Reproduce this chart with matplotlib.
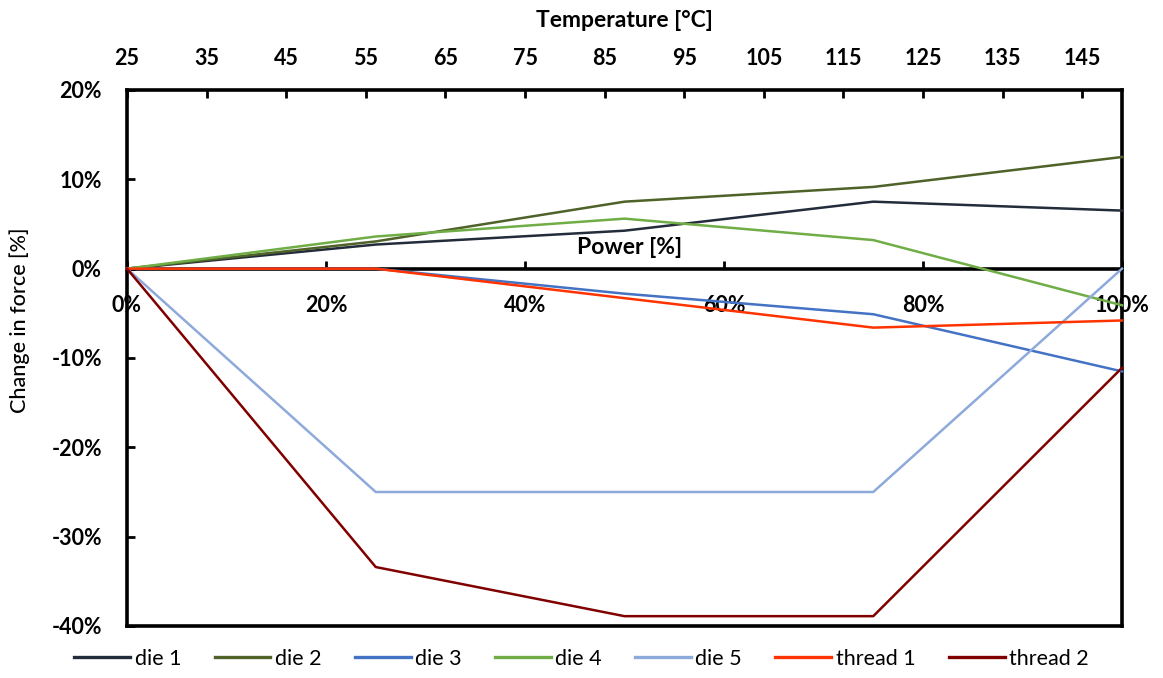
import matplotlib
matplotlib.use("Agg")
import matplotlib.pyplot as plt
from matplotlib.ticker import FuncFormatter, MultipleLocator

plt.rcParams['font.family'] = ['Lato', 'DejaVu Sans']

# power steps (% of max) and the change in force measured for each part
power = [0, 25, 50, 75, 100]
die_1 = [0, 2.7, 4.25, 7.5, 6.5]
die_2 = [0, 3.05, 7.5, 9.15, 12.5]
die_3 = [0, 0, -2.8, -5.1, -11.5]
die_4 = [0, 3.6, 5.6, 3.2, -4.1]
die_5 = [0, -25, -25, -25, 0]
thread_1 = [0, 0, -3.3, -6.6, -5.8]
thread_2 = [0, -33.4, -38.9, -38.9, -11.1]

series_names = ['die 1', 'die 2', 'die 3', 'die 4', 'die 5', 'thread 1', 'thread 2']
series = [die_1, die_2, die_3, die_4, die_5, thread_1, thread_2]
colors = ['#232c3b', '#4f6228', '#4472c4', '#70ad47', '#8eaadb', '#ff3300', '#800000']

temp_min, temp_max = 25, 150
temp_ticks = list(range(25, 150, 10))

fig = plt.figure(figsize=(11.63, 6.78), dpi=100)
ax = fig.add_axes([127 / 1163, 1 - 626 / 678, 995 / 1163, 536 / 678])

for name, vals, c in zip(series_names, series, colors):
    ax.plot(power, vals, color=c, lw=1.8, label=name, zorder=3, clip_on=False)

ax.set_xlim(0, 100)
ax.set_ylim(-40, 20)

# power axis runs along the zero line, box closed with a line at the bottom
ax.spines['bottom'].set_position(('data', 0))
for s in ax.spines.values():
    s.set_linewidth(2.6)
    s.set_color('black')
ax.axhline(-40, color='black', lw=2.6, clip_on=False, zorder=2.5)

pct = FuncFormatter(lambda v, p: f'{v:.0f}%')
ax.xaxis.set_major_locator(MultipleLocator(20))
ax.xaxis.set_major_formatter(pct)
ax.yaxis.set_major_locator(MultipleLocator(10))
ax.yaxis.set_major_formatter(pct)
ax.tick_params(axis='x', direction='in', length=6, width=2, pad=19,
               labelsize=15.5)
ax.tick_params(axis='y', direction='in', length=6, width=2, pad=18,
               labelsize=15.5)
for lbl in ax.get_xticklabels() + ax.get_yticklabels():
    lbl.set_fontweight('bold')

ax.text(50.5, 1.2, 'Power [%]', ha='center', va='bottom', fontsize=16.5,
        fontweight='bold')
ax.set_ylabel('Change in force [%]', fontsize=15.5, fontweight='medium')
ax.yaxis.set_label_coords(-0.097, 0.571)

# temperature scale on top
ax2 = ax.twiny()
ax2.set_xlim(temp_min, temp_max)
ax2.set_xticks(temp_ticks)
ax2.tick_params(axis='x', direction='in', length=6, width=2, pad=15,
                labelsize=15.5)
for lbl in ax2.get_xticklabels():
    lbl.set_fontweight('bold')
ax2.set_xlabel('Temperature [°C]', fontsize=16.5, fontweight='bold', labelpad=15)
for s in ax2.spines.values():
    s.set_visible(False)

handles, labels = ax.get_legend_handles_labels()
leg = fig.legend(handles, labels, ncol=7, loc='lower center',
                 bbox_to_anchor=(0.5, -0.015), frameon=False, fontsize=15.5,
                 handlelength=2.6, handletextpad=0.2, columnspacing=1.55)
for h in leg.legend_handles:
    h.set_linewidth(2.4)

fig.savefig('out.png', dpi=100)
